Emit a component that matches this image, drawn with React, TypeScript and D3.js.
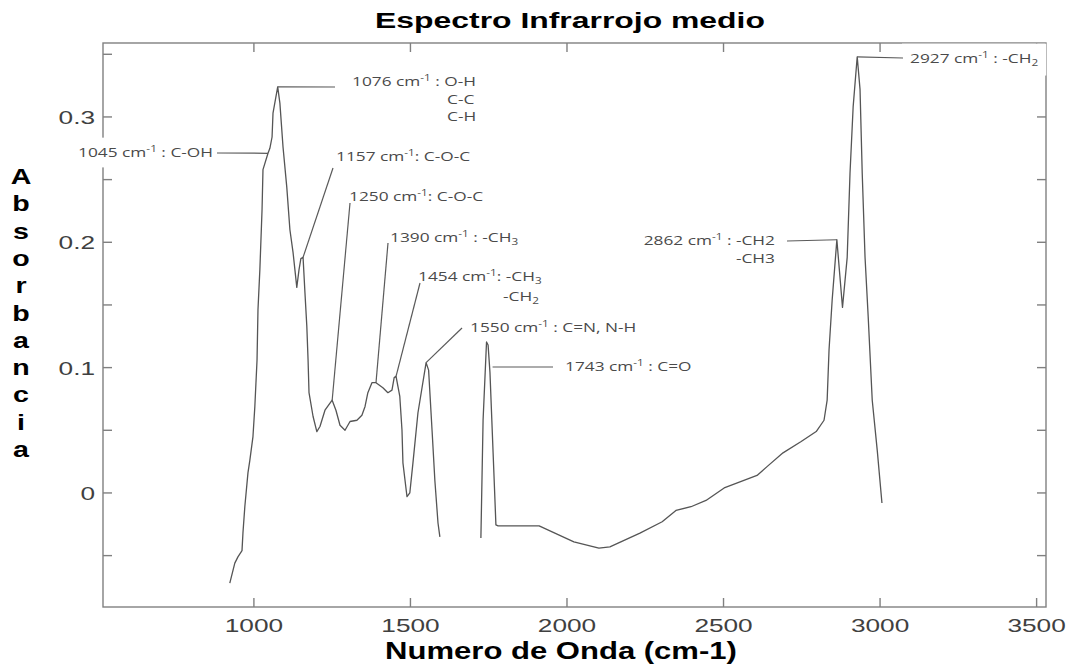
import React, { useEffect, useRef } from "react";
import * as d3 from "d3";

const W = 1076;
const H = 664;

// Espectro IR medio: tramo bajo (~920–1600 cm-1) y tramo alto (~1725–3000 cm-1)
const numeroOndaBajo = [
  923, 939, 949, 962, 965, 971, 981, 987, 997, 1003,
  1010, 1013, 1019, 1026, 1029, 1045, 1051, 1058, 1061, 1076,
  1083, 1093, 1105, 1115, 1125, 1131, 1137, 1144, 1150, 1157,
  1163, 1169, 1173, 1176, 1189, 1201, 1211, 1227, 1250, 1262,
  1275, 1291, 1307, 1329, 1345, 1355, 1364, 1377, 1390, 1412,
  1428, 1441, 1448, 1454, 1466, 1473, 1476, 1489, 1498, 1508,
  1524, 1550, 1558, 1569, 1578, 1588, 1594,
];
const absorbanciaBajo = [
  -0.072, -0.056, -0.051, -0.046, -0.032, -0.011, 0.016, 0.026, 0.045, 0.069,
  0.106, 0.146, 0.178, 0.226, 0.258, 0.271, 0.275, 0.284, 0.303, 0.324,
  0.311, 0.276, 0.244, 0.21, 0.192, 0.178, 0.164, 0.178, 0.187, 0.188,
  0.16, 0.133, 0.106, 0.08, 0.061, 0.049, 0.053, 0.066, 0.074, 0.066,
  0.054, 0.05, 0.057, 0.058, 0.062, 0.069, 0.08, 0.088, 0.088, 0.084,
  0.08, 0.082, 0.092, 0.093, 0.077, 0.05, 0.024, -0.003, 0.0, 0.024,
  0.064, 0.104, 0.098, 0.05, 0.01, -0.024, -0.035,
];
const numeroOndaAlto = [
  1725, 1732, 1743, 1748, 1754, 1764, 1773, 1780, 1911, 2022,
  2102, 2137, 2233, 2304, 2348, 2396, 2444, 2502, 2607, 2639,
  2690, 2748, 2796, 2821, 2831, 2837, 2847, 2862, 2870, 2880,
  2895, 2904, 2914, 2927, 2936, 2943, 2952, 2962, 2975, 2991,
  3006,
];
const absorbanciaAlto = [
  -0.036, 0.058, 0.1205, 0.118, 0.096, 0.032, -0.0255, -0.0263, -0.0263, -0.039,
  -0.044, -0.043, -0.032, -0.023, -0.014, -0.011, -0.006, 0.004, 0.014, 0.021,
  0.032, 0.041, 0.049, 0.058, 0.074, 0.114, 0.154, 0.202, 0.178, 0.148,
  0.188, 0.255, 0.308, 0.348, 0.322, 0.255, 0.188, 0.141, 0.074, 0.034,
  -0.008,
];

const xTicks = [1000, 1500, 2000, 2500, 3000, 3500];
const yTickLabels = [0, 0.1, 0.2, 0.3];
const yTicks = [-0.05, 0, 0.05, 0.1, 0.15, 0.2, 0.25, 0.3, 0.35];

const titulo = "Espectro Infrarrojo medio";
const ejeX = "Numero de Onda (cm-1)";
const ejeY = "Absorbancia";

// Bandas asignadas: número de onda del pico y texto de la etiqueta
// (^{..} superíndice, _{..} subíndice)
type Linea = { t: string; x: number; y: number };
type Nota = {
  wn: number;
  lines: Linea[];
  anchor: "start" | "end";
  to: [number, number];
  fromFlank?: boolean;
};
const notas: Nota[] = [
  { wn: 1076, anchor: "start", to: [335, 87], lines: [
    { t: "1076 cm^{-1} : O-H", x: 352, y: 86 },
    { t: "C-C", x: 447, y: 104 },
    { t: "C-H", x: 447, y: 121 } ] },
  { wn: 1045, anchor: "end", to: [217, 153], lines: [
    { t: "1045 cm^{-1} : C-OH", x: 213, y: 157 } ] },
  { wn: 1157, anchor: "start", to: [333, 168], lines: [
    { t: "1157 cm^{-1}: C-O-C", x: 336, y: 161 } ] },
  { wn: 1250, anchor: "start", to: [350, 203], lines: [
    { t: "1250 cm^{-1}: C-O-C", x: 349, y: 201 } ] },
  { wn: 1390, anchor: "start", to: [388, 243], lines: [
    { t: "1390 cm^{-1} : -CH_{3}", x: 390, y: 242 } ] },
  { wn: 1454, anchor: "start", to: [420, 283], lines: [
    { t: "1454 cm^{-1}: -CH_{3}", x: 418, y: 281 },
    { t: "-CH_{2}", x: 503, y: 301 } ] },
  { wn: 1550, anchor: "start", to: [462, 328], lines: [
    { t: "1550 cm^{-1} : C=N, N-H", x: 470, y: 332 } ] },
  { wn: 1743, anchor: "start", to: [553, 367], fromFlank: true, lines: [
    { t: "1743 cm^{-1} : C=O", x: 565, y: 371 } ] },
  { wn: 2862, anchor: "end", to: [787, 241], lines: [
    { t: "2862 cm^{-1} : -CH2", x: 775, y: 245 },
    { t: "-CH3", x: 775, y: 263 } ] },
  { wn: 2927, anchor: "start", to: [903, 58], lines: [
    { t: "2927 cm^{-1} : -CH_{2}", x: 910, y: 63 } ] },
];

function partes(s: string) {
  const out: { text: string; kind: "n" | "sup" | "sub" }[] = [];
  const re = /(\^|_)\{([^}]*)\}/g;
  let last = 0;
  let m: RegExpExecArray | null;
  while ((m = re.exec(s))) {
    if (m.index > last) out.push({ text: s.slice(last, m.index), kind: "n" });
    out.push({ text: m[2], kind: m[1] === "^" ? "sup" : "sub" });
    last = re.lastIndex;
  }
  if (last < s.length) out.push({ text: s.slice(last), kind: "n" });
  return out;
}

const SX = 1.38; // ensanchamiento horizontal del texto

export default function App() {
  const ref = useRef<SVGSVGElement | null>(null);

  useEffect(() => {
    const svg = d3.select(ref.current);
    svg.selectAll("*").remove();

    const left = 103, right = 1046, top = 43, bottom = 607;
    const x = d3.scaleLinear().domain([518, 3530]).range([left, right]);
    const y = d3.scaleLinear().domain([-0.091, 0.359]).range([bottom, top]);

    svg.append("rect").attr("width", W).attr("height", H).attr("fill", "#fff");

    const frameColor = "#808080";
    const frame = svg.append("g").attr("stroke", frameColor).attr("stroke-width", 1.4).attr("fill", "none");
    frame.append("rect").attr("x", left).attr("y", top).attr("width", right - left).attr("height", bottom - top);

    const tl = 9;
    xTicks.forEach((t) => {
      frame.append("line").attr("x1", x(t)).attr("x2", x(t)).attr("y1", bottom).attr("y2", bottom - tl);
      frame.append("line").attr("x1", x(t)).attr("x2", x(t)).attr("y1", top).attr("y2", top + tl);
    });
    yTicks.forEach((t) => {
      frame.append("line").attr("x1", left).attr("x2", left + tl).attr("y1", y(t)).attr("y2", y(t));
      frame.append("line").attr("x1", right).attr("x2", right - tl).attr("y1", y(t)).attr("y2", y(t));
    });

    const stretched = (g: any, tx: number, ty: number, sx: number) =>
      g.append("g").attr("transform", `translate(${tx},${ty}) scale(${sx},1)`);

    const tickFont = "'Liberation Sans', Arial, sans-serif";
    xTicks.forEach((t) => {
      stretched(svg, x(t), 632, SX).append("text")
        .attr("text-anchor", "middle").attr("font-family", tickFont).attr("font-size", 19)
        .attr("fill", "#404040").text(d3.format("d")(t));
    });
    yTickLabels.forEach((t) => {
      stretched(svg, 95, y(t) + 7, SX).append("text")
        .attr("text-anchor", "end").attr("font-family", tickFont).attr("font-size", 19)
        .attr("fill", "#404040").text(t === 0 ? "0" : d3.format(".1f")(t));
    });

    // títulos
    stretched(svg, 570, 28, 1.45).append("text")
      .attr("text-anchor", "middle").attr("font-family", tickFont).attr("font-weight", "bold")
      .attr("font-size", 22).attr("fill", "#000").text(titulo);
    stretched(svg, 561, 659, 1.35).append("text")
      .attr("text-anchor", "middle").attr("font-family", tickFont).attr("font-weight", "bold")
      .attr("font-size", 23).attr("fill", "#000").text(ejeX);
    ejeY.split("").forEach((ch, i) => {
      stretched(svg, 21, 184 + i * 27.3, 1.3).append("text")
        .attr("text-anchor", "middle").attr("font-family", tickFont).attr("font-weight", "bold")
        .attr("font-size", 22).attr("fill", "#000").text(ch);
    });

    // etiquetas de bandas (fondo blanco primero)
    const noteFont = "'Open Sans', 'Noto Sans', sans-serif";
    const fsN = 13;
    const boxes = svg.append("g");
    const curveG = svg.append("g");
    const leaders = svg.append("g").attr("stroke", "#5a5a5a").attr("stroke-width", 1.2).attr("fill", "none");
    const labels = svg.append("g");

    notas.forEach((n) => {
      const lg = labels.append("g");
      n.lines.forEach((ln) => {
        const g = stretched(lg, ln.x, ln.y, 1.33);
        const txt = g.append("text").attr("text-anchor", n.anchor)
          .attr("font-family", noteFont).attr("font-size", fsN).attr("fill", "#4a4a4a");
        let shift = 0;
        partes(ln.t).forEach((p) => {
          let target = 0;
          if (p.kind === "sup") target = -5;
          if (p.kind === "sub") target = 3;
          const ts = txt.append("tspan").attr("dy", target - shift).text(p.text);
          if (p.kind !== "n") ts.attr("font-size", fsN * 0.68);
          shift = target;
        });
      });
      const bb = (lg.node() as SVGGElement).getBBox();
      boxes.append("rect")
        .attr("x", bb.x - 8).attr("y", bb.y - 5)
        .attr("width", bb.width + 16).attr("height", bb.height + 12)
        .attr("fill", "#fff");
    });

    const line = d3.line<[number, number]>().x((d) => x(d[0])).y((d) => y(d[1]));
    const tramos: [number, number][][] = [
      numeroOndaBajo.map((w, i) => [w, absorbanciaBajo[i]] as [number, number]),
      numeroOndaAlto.map((w, i) => [w, absorbanciaAlto[i]] as [number, number]),
    ];
    tramos.forEach((pts) => {
      curveG.append("path").attr("d", line(pts)).attr("fill", "none")
        .attr("stroke", "#555").attr("stroke-width", 1.3).attr("stroke-linejoin", "round");
    });

    const todos = tramos.flat();
    notas.forEach((n) => {
      const idx = todos.findIndex((p) => p[0] === n.wn);
      const pk = todos[idx];
      let sx = x(pk[0]), sy = y(pk[1]);
      if (n.fromFlank) {
        // punto del flanco derecho a la altura de la línea guía
        const ty = n.to[1];
        for (let k = idx; k < todos.length - 1; k++) {
          const a = todos[k], b = todos[k + 1];
          const ya = y(a[1]), yb = y(b[1]);
          if (ya <= ty && yb >= ty) {
            const f = (ty - ya) / (yb - ya);
            sx = x(a[0]) + f * (x(b[0]) - x(a[0])) + 3;
            sy = ty;
            break;
          }
        }
      }
      leaders.append("line").attr("x1", sx).attr("y1", sy).attr("x2", n.to[0]).attr("y2", n.to[1]);
    });
  }, []);

  return (
    <svg ref={ref} width={W} height={H}
      style={{ position: "absolute", left: 0, top: 0, display: "block" }} />
  );
}
